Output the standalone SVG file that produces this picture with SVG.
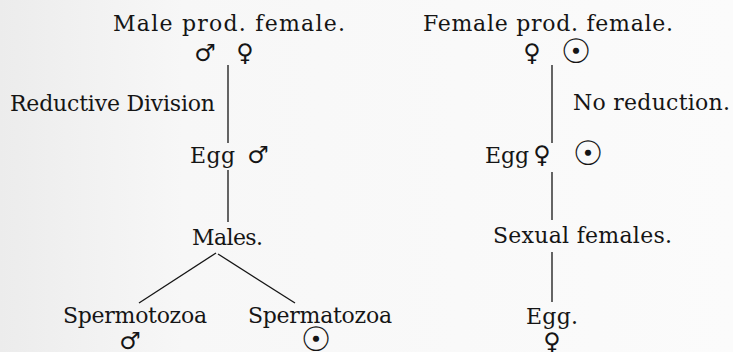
<svg xmlns="http://www.w3.org/2000/svg" width="733" height="352" viewBox="0 0 733 352">
  <defs>
    <linearGradient id="paper" x1="0" y1="0" x2="1" y2="0">
      <stop offset="0" stop-color="#ececec"/>
      <stop offset="0.25" stop-color="#f7f7f7"/>
      <stop offset="1" stop-color="#fbfbfb"/>
    </linearGradient>
  </defs>
  <style>
    .lbl { font-family: "DejaVu Serif", "Liberation Serif", serif; font-size: 22px; fill: #151515; }
    .sym { font-family: "DejaVu Sans", sans-serif; font-size: 24px; fill: #151515; text-anchor: middle; }
    .sun { font-family: "DejaVu Sans", sans-serif; font-size: 34px; fill: #151515; text-anchor: middle; }
    .edge { stroke: #151515; stroke-width: 1.3; fill: none; }
  </style>
  <rect width="733" height="352" fill="url(#paper)"/>

  <!-- connectors -->
  <g id="connectors" class="edge">
    <line x1="228" y1="65" x2="228" y2="143"/>
    <line x1="228" y1="170" x2="228" y2="222"/>
    <line x1="216" y1="253" x2="139" y2="303"/>
    <line x1="218" y1="254" x2="295" y2="303"/>
    <line x1="552" y1="65" x2="552" y2="143"/>
    <line x1="552" y1="172" x2="552" y2="220"/>
    <line x1="552" y1="252" x2="552" y2="302"/>
  </g>

  <!-- left lineage: male producing female -->
  <g id="male-prod-female">
    <text class="lbl" x="113" y="31" textLength="232" lengthAdjust="spacing">Male prod. female.</text>
    <text class="sym" x="205" y="61">♂</text>
    <text class="sym" x="245" y="61">♀</text>
  </g>
  <g id="reductive-division">
    <text class="lbl" x="10" y="111" textLength="205" lengthAdjust="spacing">Reductive Division</text>
  </g>
  <g id="egg-male">
    <text class="lbl" x="190" y="163" textLength="45" lengthAdjust="spacing">Egg</text>
    <text class="sym" x="258" y="163">♂</text>
  </g>
  <g id="males">
    <text class="lbl" x="192" y="245" textLength="71" lengthAdjust="spacing">Males.</text>
  </g>
  <g id="spermotozoa">
    <text class="lbl" x="63" y="323" textLength="144" lengthAdjust="spacing">Spermotozoa</text>
    <text class="sym" x="130" y="349">♂</text>
  </g>
  <g id="spermatozoa">
    <text class="lbl" x="248" y="323" textLength="144" lengthAdjust="spacing">Spermatozoa</text>
    <text class="sun" x="316" y="351">☉</text>
  </g>

  <!-- right lineage: female producing female -->
  <g id="female-prod-female">
    <text class="lbl" x="423" y="31" textLength="250" lengthAdjust="spacing">Female prod. female.</text>
    <text class="sym" x="532" y="61">♀</text>
    <text class="sun" x="576" y="63">☉</text>
  </g>
  <g id="no-reduction">
    <text class="lbl" x="573" y="110" textLength="157" lengthAdjust="spacing">No reduction.</text>
  </g>
  <g id="egg-female">
    <text class="lbl" x="485" y="163" textLength="44" lengthAdjust="spacing">Egg</text>
    <text class="sym" x="542" y="163">♀</text>
    <text class="sun" x="588" y="165">☉</text>
  </g>
  <g id="sexual-females">
    <text class="lbl" x="493" y="243" textLength="179" lengthAdjust="spacing">Sexual females.</text>
  </g>
  <g id="egg-final">
    <text class="lbl" x="526" y="324" textLength="52" lengthAdjust="spacing">Egg.</text>
    <text class="sym" x="552" y="350">♀</text>
  </g>
</svg>
